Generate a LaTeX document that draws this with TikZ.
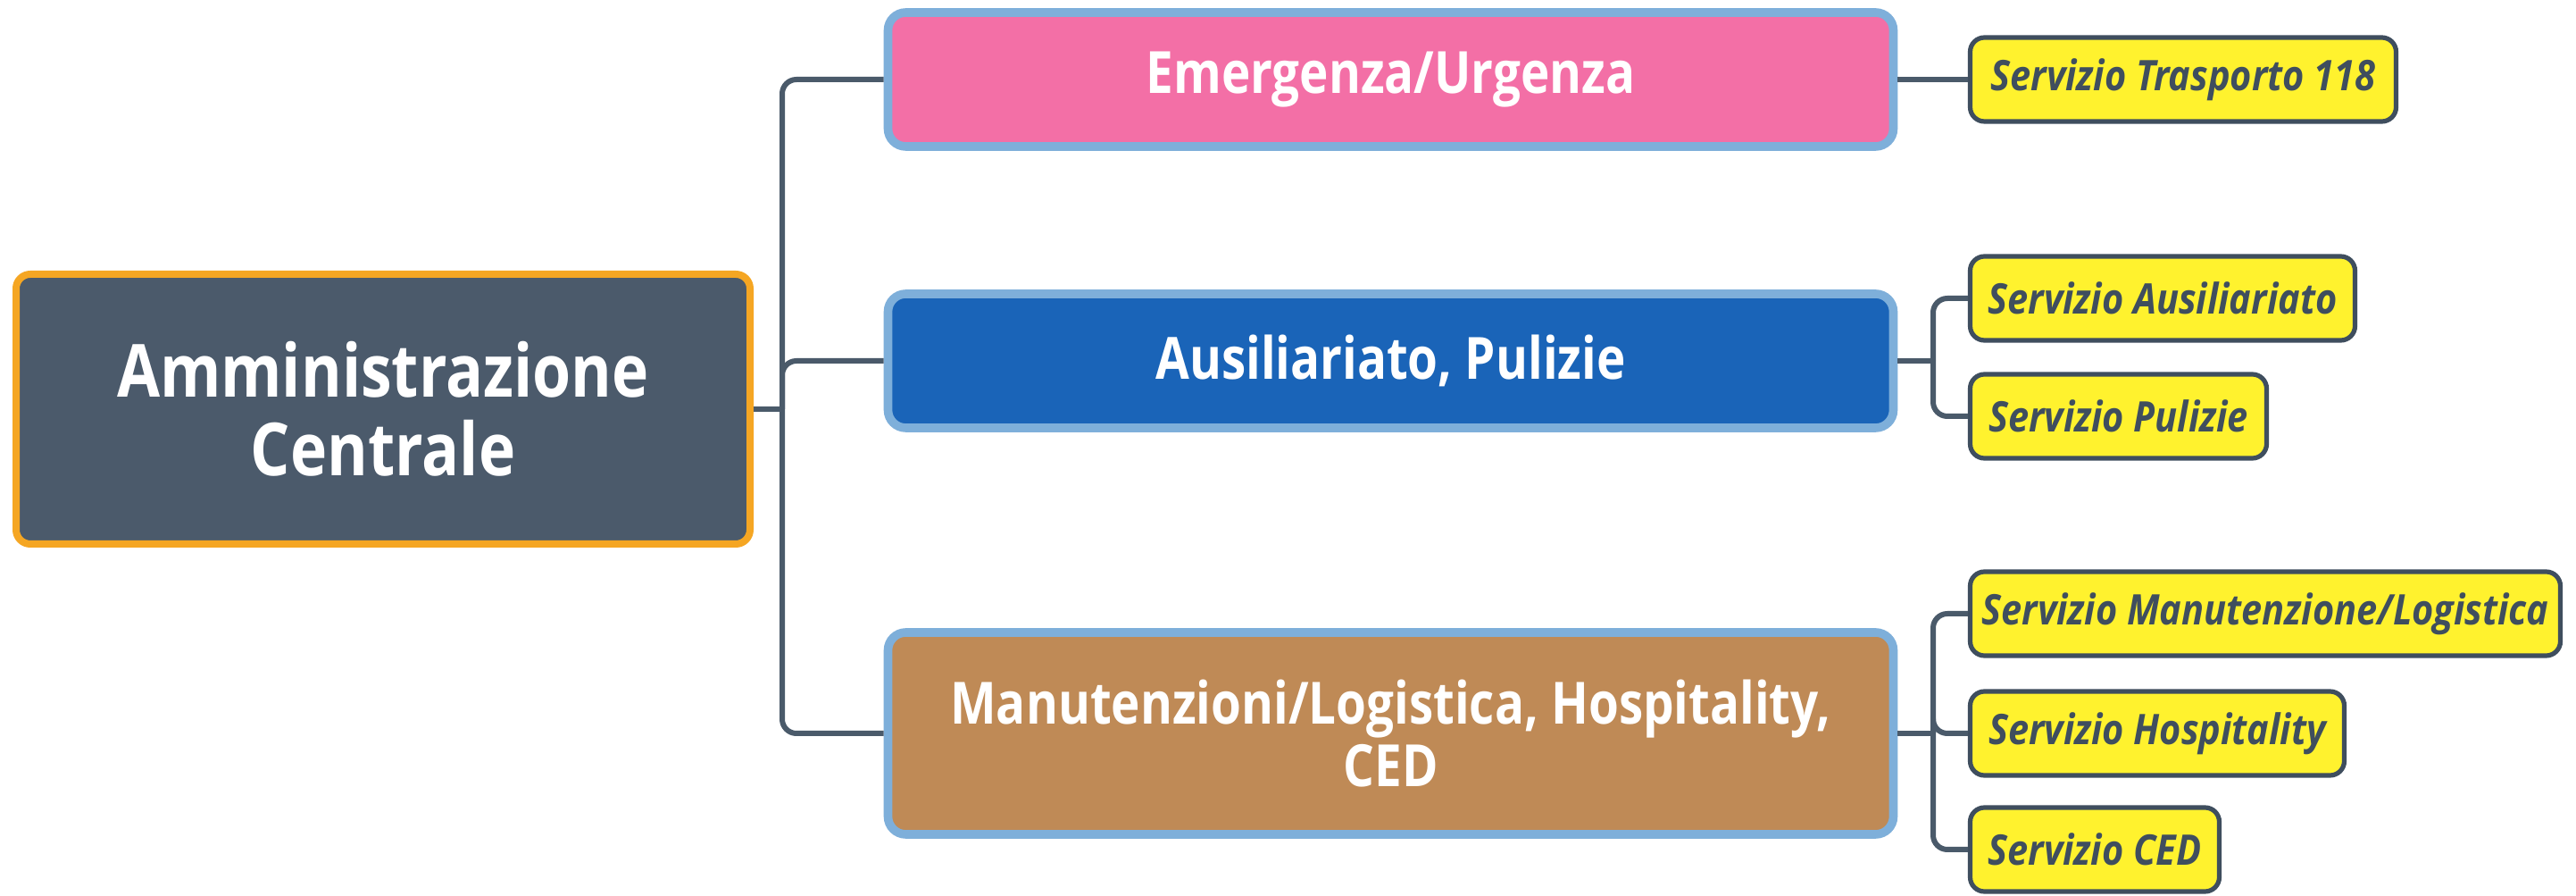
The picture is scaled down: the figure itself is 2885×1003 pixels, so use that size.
\documentclass[tikz,border=0pt]{standalone}
\usepackage{fontspec}
\setmainfont{Open Sans}
\newfontfamily\mainboxfont{Open Sans}[FakeStretch=0.84]
\newfontfamily\rootfont{Open Sans}[FakeStretch=0.85]
\newfontfamily\subfont{Open Sans}[FakeStretch=0.88]
\definecolor{rootfill}{HTML}{4B5A6B}
\definecolor{rootedge}{HTML}{F5A623}
\definecolor{boxedge}{HTML}{7EAFDA}
\definecolor{pinkfill}{HTML}{F36FA6}
\definecolor{bluefill}{HTML}{1A64B8}
\definecolor{brownfill}{HTML}{BF8A56}
\definecolor{yelfill}{HTML}{FFF22E}
\definecolor{slate}{HTML}{3F4E5E}
\definecolor{connc}{HTML}{4A5A6A}
\tikzset{
  rootbox/.style={draw=rootedge, line width=2pt, fill=rootfill, rounded corners=4pt,
    minimum width=205.5pt, minimum height=75.5pt, text=white, align=center,
    font=\rootfont\bfseries\fontsize{20.5pt}{22pt}\selectfont, inner sep=0pt},
  mainbox/.style={draw=boxedge, line width=2.4pt, rounded corners=5pt,
    minimum width=281.5pt, text=white, align=center,
    font=\mainboxfont\bfseries\fontsize{16.3pt}{17.5pt}\selectfont, inner sep=0pt},
  subbox/.style={draw=slate, line width=1.3pt, fill=yelfill, rounded corners=4pt,
    minimum height=23.5pt, text=slate, inner sep=0pt,
    font=\subfont\bfseries\itshape\fontsize{11.8pt}{13pt}\selectfont},
  conn/.style={draw=connc, line width=1.5pt, rounded corners=4pt},
}
\begin{document}
\begin{tikzpicture}[x=0.25pt, y=-0.25pt]
\useasboundingbox (0,0) rectangle (2885,1003);
\fill[white] (0,0) rectangle (2885,1003);

% nodes
\node[rootbox] (root) at (429,458) {Amministrazione\\Centrale};
\node[mainbox, fill=pinkfill, minimum height=37.5pt] (emerg) at (1557.5,89) {Emergenza/Urgenza};
\node[mainbox, fill=bluefill, minimum height=37.5pt] (ausil) at (1557.5,404) {Ausiliariato, Pulizie};
\node[mainbox, fill=brownfill, minimum height=56.5pt] (manut) at (1557.5,821) {Manutenzioni/Logistica, Hospitality,\\CED};

\node[subbox, minimum width=119.25pt] (s118) at (2445,89) {Servizio Trasporto 118};
\node[subbox, minimum width=107.75pt] (sausil) at (2422,334) {Servizio Ausiliariato};
\node[subbox, minimum width=83pt] (spul) at (2372.5,466) {Servizio Pulizie};
\node[subbox, minimum width=165.25pt] (sman) at (2537,687) {Servizio Manutenzione/Logistica};
\node[subbox, minimum width=104.75pt] (shosp) at (2416,821) {Servizio Hospitality};
\node[subbox, minimum width=69.75pt] (sced) at (2346,951) {Servizio CED};

% junction coordinates
\coordinate (j0) at (876,458);
\coordinate (j1) at (2165,404);
\coordinate (j2) at (2165,821);

% connectors: left trunk
\draw[conn] (root.east) -- (j0);
\draw[conn] (j0) |- (emerg.west);
\draw[conn] (j0) |- (ausil.west);
\draw[conn] (j0) |- (manut.west);

% connectors: right side
\draw[conn] (emerg.east) -- (s118.west);
\draw[conn] (ausil.east) -- (j1);
\draw[conn] (j1) |- (sausil.west);
\draw[conn] (j1) |- (spul.west);
\draw[conn] (manut.east) -- (j2);
\draw[conn] (j2) |- (sman.west);
\draw[conn] (j2) |- (shosp.west);
\draw[conn] (j2) |- (sced.west);
\end{tikzpicture}
\end{document}
